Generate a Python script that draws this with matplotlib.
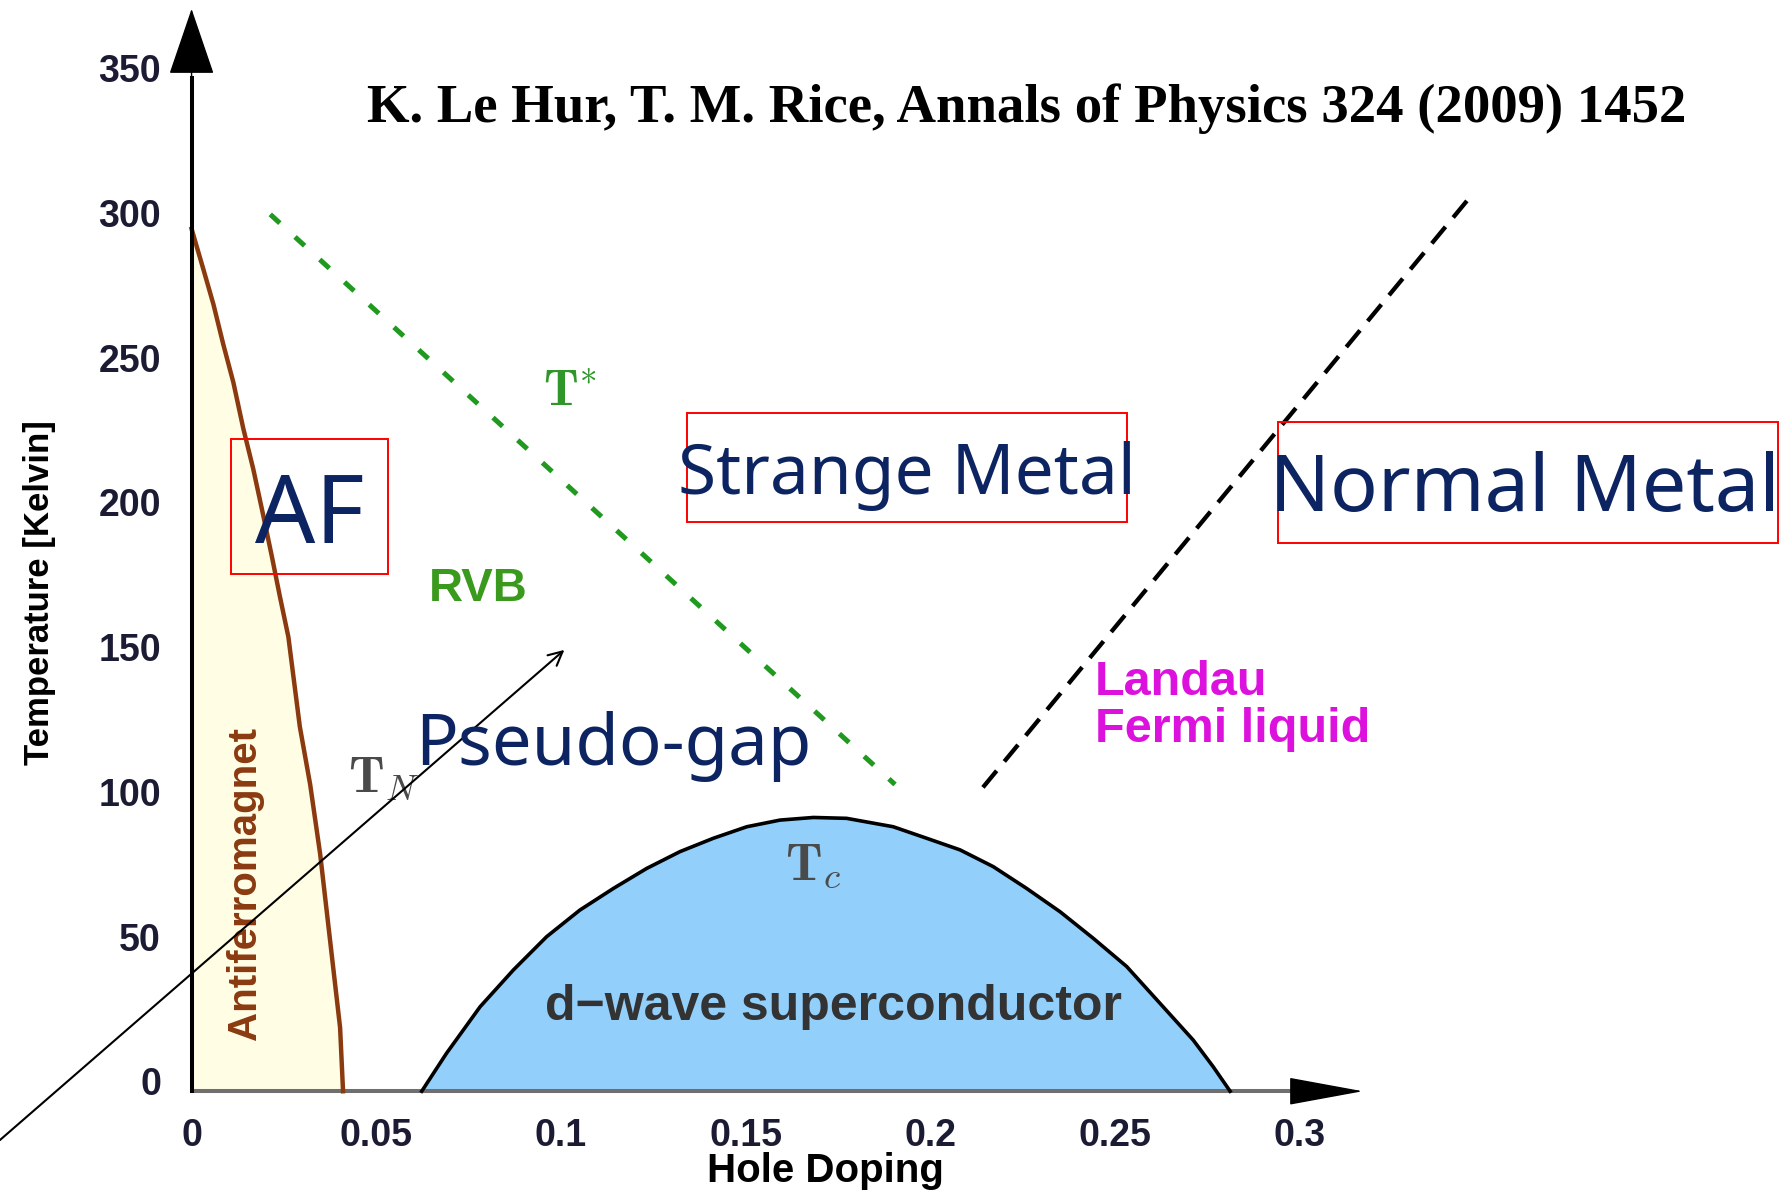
import matplotlib.pyplot as plt
from matplotlib.patches import Rectangle
from matplotlib.transforms import ScaledTranslation

# antiferromagnet boundary T_N(p)
af_doping = [0.0, 0.0032, 0.0059, 0.0086, 0.0113, 0.0140, 0.0167, 0.0194, 0.0217,
             0.0239, 0.0262, 0.0293, 0.0321, 0.0348, 0.0366, 0.0384, 0.0402, 0.0410]
af_temp = [298, 284, 272, 258, 245, 229, 215, 199, 185,
           171, 157, 126, 106, 82, 62, 42, 22, 0]

# superconducting dome T_c(p)
sc_doping = [0.0623, 0.0690, 0.0781, 0.0871, 0.0961, 0.1051, 0.1142, 0.1232, 0.1322,
             0.1412, 0.1503, 0.1593, 0.1683, 0.1773, 0.1899, 0.1990, 0.2080, 0.2170,
             0.2260, 0.2351, 0.2441, 0.2531, 0.2621, 0.2711, 0.2765, 0.2811]
sc_temp = [0, 13.1, 29.2, 41.9, 53.4, 62.6, 70.1, 77.0, 82.8,
           87.4, 91.4, 93.7, 94.6, 94.3, 91.4, 87.4, 83.4, 77.6,
           70.1, 62.0, 52.8, 43.1, 30.4, 17.7, 8.5, 0]

# pseudogap line T*
tstar_doping = [0.0213, 0.1904]
tstar_temp = [303, 106]

# crossover to Fermi liquid
fl_doping = [0.2142, 0.3454]
fl_temp = [105, 308]

x_ticks = [0, 0.05, 0.1, 0.15, 0.2, 0.25, 0.3]
x_labels = ['0', '0.05', '0.1', '0.15', '0.2', '0.25', '0.3']
y_ticks = [0, 50, 100, 150, 200, 250, 300, 350]

NAVY = '#0c2461'
BROWN = '#8b3a10'
GREEN = '#2f962a'

plt.rcParams['font.family'] = ['Liberation Sans', 'DejaVu Sans']
plt.rcParams['mathtext.fontset'] = 'cm'

fig = plt.figure(figsize=(17.88, 11.95), dpi=100)
ax = fig.add_axes([0.10714, 0.08683, 0.6199, 0.8476])
ax.set_xlim(0, 0.3)
ax.set_ylim(0, 350)
for s in ax.spines.values():
    s.set_visible(False)

# phase regions
ax.fill_betweenx(af_temp, 0, af_doping, color='#fffde4', zorder=1)
ax.plot(af_doping, af_temp, color=BROWN, lw=3.2, zorder=3, clip_on=False)
ax.fill_between(sc_doping, 0, sc_temp, color='#93cffb', zorder=1)
ax.plot(sc_doping, sc_temp, color='black', lw=2.6, zorder=3, clip_on=False)

ax.plot(tstar_doping, tstar_temp, color='#1f9a1f', lw=3.6,
        linestyle=(0, (2.6, 4.1)), clip_on=False)
ax.plot(fl_doping, fl_temp, color='black', lw=3.1,
        linestyle=(0, (5, 2.8)), clip_on=False)

# axes drawn as arrows
ax.plot([0, 0.2985], [0, 0], color='#6f6f6f', lw=2.9, zorder=2, clip_on=False)
ax.annotate('', xy=(0.317, 0), xytext=(0.2985, 0), annotation_clip=False,
            arrowprops=dict(arrowstyle='-|>,head_length=0.49,head_width=0.09',
                            mutation_scale=100, color='black', lw=1,
                            shrinkA=0, shrinkB=0))
ax.plot([0, 0], [0, 350], color='black', lw=2.9, zorder=4, clip_on=False)
ax.annotate('', xy=(0, 374), xytext=(0, 345), annotation_clip=False,
            arrowprops=dict(arrowstyle='-|>,head_length=0.44,head_width=0.15',
                            mutation_scale=100, color='black', lw=1,
                            shrinkA=0, shrinkB=0))

# ticks
ax.set_xticks(x_ticks)
ax.set_xticklabels(x_labels)
ax.set_yticks(y_ticks)
ax.tick_params(length=0, labelsize=27, labelcolor='#1b1b33')
ax.tick_params(axis='x', pad=19)
ax.tick_params(axis='y', pad=22)
for lab in ax.get_xticklabels() + ax.get_yticklabels():
    lab.set_fontweight('bold')
for lab in ax.get_yticklabels():
    lab.set_transform(lab.get_transform() + ScaledTranslation(0, 0.1, fig.dpi_scale_trans))

fig.text(35 / 1568, 1 - 520 / 1048, 'Temperature [Kelvin]', rotation=90,
         ha='center', va='center', fontsize=25, fontweight='bold')
fig.text(724 / 1568, 1 - 1027 / 1048, 'Hole Doping', ha='center', va='center',
         fontsize=29, fontweight='bold')
fig.text(322 / 1568, 1 - 95 / 1048,
         'K. Le Hur, T. M. Rice, Annals of Physics 324 (2009) 1452',
         ha='left', va='center', fontsize=39.4, fontweight='bold',
         family=['Liberation Serif', 'DejaVu Serif'])

# red boxes
for x0, y0, x1, y1 in [(0.0108, 178.9, 0.0531, 225.4),
                       (0.1340, 196.6, 0.2531, 234.4),
                       (0.2941, 189.5, 0.4293, 231.3)]:
    ax.add_patch(Rectangle((x0, y0), x1 - x0, y1 - y0, fill=False,
                           edgecolor='red', lw=1.4, zorder=5, clip_on=False))

navy = dict(color=NAVY, family=['Noto Sans', 'DejaVu Sans'], ha='center',
            va='center', zorder=6, clip_on=False)
ax.text(0.0321, 198.0, 'AF', fontsize=68, **navy)
ax.text(0.1935, 212.7, 'Strange Metal', fontsize=50, **navy)
ax.text(0.3608, 207.6, 'Normal Metal', fontsize=57, **navy)
ax.text(0.1142, 119.0, 'Pseudo-gap', fontsize=51, **navy)

# phase labels
ax.text(0.0775, 173.4, 'RVB', fontsize=34, fontweight='bold', color='#3a9a1e',
        ha='center', va='center')
ax.text(0.0145, 71.7, 'Antiferromagnet', fontsize=29, fontweight='bold',
        color=BROWN, rotation=90, ha='center', va='center')
ax.text(0.1738, 29.2, 'd\u2212wave superconductor', fontsize=36, fontweight='bold',
        color='#333333', ha='center', va='center')
ax.text(0.2444, 133.0, 'Landau\nFermi liquid', fontsize=35, fontweight='bold',
        color='#dd11dd', ha='left', va='center', linespacing=1.05)

ax.text(0.0952, 236.6, r'$\mathbf{T}^{*}$', fontsize=36, color=GREEN,
        ha='left', va='baseline')
ax.text(0.0423, 103.4, r'$\mathbf{T}_{N}$', fontsize=37, color='#4a4a4a',
        ha='left', va='baseline')
ax.text(0.1606, 73.0, r'$\mathbf{T}_{c}$', fontsize=38, color='#4a4a4a',
        ha='left', va='baseline')

# thin arrow across the pseudo-gap region
ax.annotate('', xy=(0.1009, 152.5), xytext=(-0.0519, -16.9), annotation_clip=False,
            arrowprops=dict(arrowstyle='->', lw=1.5, color='black',
                            mutation_scale=25, shrinkA=0, shrinkB=0))

fig.savefig('out.png', dpi=100)
